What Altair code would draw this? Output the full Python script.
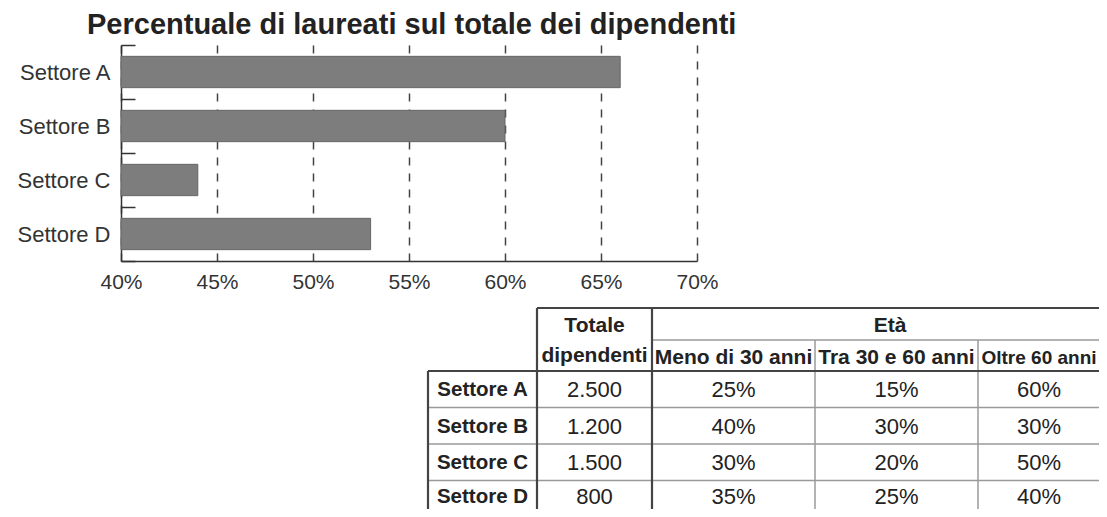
import altair as alt
import pandas as pd

# ---------------- data ----------------
title_text = "Percentuale di laureati sul totale dei dipendenti"
sectors = ["Settore A", "Settore B", "Settore C", "Settore D"]
laureati_pct = [66, 60, 44, 53]
x_ticks = [40, 45, 50, 55, 60, 65, 70]

head_totale = ["Totale", "dipendenti"]
head_eta = "Età"
age_groups = ["Meno di 30 anni", "Tra 30 e 60 anni", "Oltre 60 anni"]
totale_dipendenti = ["2.500", "1.200", "1.500", "800"]
meno_30 = ["25%", "40%", "30%", "35%"]
tra_30_60 = ["15%", "30%", "20%", "25%"]
oltre_60 = ["60%", "30%", "50%", "40%"]

# ---------------- layout ----------------
PLOT_W, PLOT_H = 576, 216
ORIGIN_X, ORIGIN_Y = 121, 45          # plot origin on the page
SVG_W, SVG_H = 1091, 501
PAD_L, PAD_T = ORIGIN_X - 8, ORIGIN_Y - 8
PAD_R = SVG_W - PAD_L - PLOT_W
PAD_B = SVG_H - PAD_T - PLOT_H

FONT = "Liberation Sans"
DARK = "#333333"

col_w = [109, 115, 163, 163, 122]
row_h = [32, 31, 36.5, 36.5, 36.5, 40]
row_text_dy = [1, 1, 1, -2]
header_sizes = [21, 21, 19]
tab_x0 = 428 - ORIGIN_X
tab_y0 = 308 - ORIGIN_Y
ce = [tab_x0]
for w in col_w:
    ce.append(ce[-1] + w)
re_ = [tab_y0]
for h in row_h:
    re_.append(re_[-1] + h)

TITLE_X = 87 - ORIGIN_X
TITLE_Y = 34 - ORIGIN_Y


def mid(a, b):
    return (a + b) / 2


# ---------------- bar chart ----------------
bars_df = pd.DataFrame({"sector": sectors, "pct": laureati_pct})

bars = alt.Chart(bars_df).mark_bar(
    height=alt.RelativeBandSize(0.58), color="#7d7d7d", stroke="#666666", strokeWidth=1
).encode(
    x=alt.X(
        "pct:Q",
        scale=alt.Scale(domain=[40, 70], nice=False, zero=False),
        axis=alt.Axis(
            values=x_ticks, labelExpr="datum.value + '%'", title=None,
            grid=True, gridDash=[8, 8], gridColor="#444444", gridWidth=1.5,
            ticks=False, domainColor=DARK, domainWidth=1.5,
            labelFont=FONT, labelFontSize=21, labelColor=DARK, labelPadding=10,
            labelFlush=False,
        ),
    ),
    x2=alt.datum(40),
    y=alt.Y(
        "sector:N", sort=sectors,
        scale=alt.Scale(paddingInner=0, paddingOuter=0),
        axis=alt.Axis(
            title=None, ticks=False, grid=True, tickBand="extent",
            gridDash=[14, 3000], gridColor=DARK, gridWidth=1.5,
            domainColor=DARK, domainWidth=1.5,
            labelFont=FONT, labelFontSize=22, labelColor=DARK, labelPadding=11,
        ),
    ),
)

# ---------------- table + title (pixel-layout layers) ----------------
tx = alt.Scale(domain=[0, PLOT_W], range=[0, PLOT_W], nice=False, zero=False)
ty = alt.Scale(domain=[0, PLOT_H], range=[0, PLOT_H], nice=False, zero=False)

dark_lines = pd.DataFrame([
    {"x": ce[1], "x2": ce[5] + 20, "y": re_[0], "y2": re_[0]},
    {"x": ce[0], "x2": ce[5] + 20, "y": re_[2], "y2": re_[2]},
    {"x": ce[0], "x2": ce[0], "y": re_[2], "y2": re_[6]},
    {"x": ce[1], "x2": ce[1], "y": re_[0], "y2": re_[6]},
    {"x": ce[2], "x2": ce[2], "y": re_[0], "y2": re_[6]},
])
light_lines = pd.DataFrame(
    [{"x": ce[2], "x2": ce[5] + 20, "y": re_[1], "y2": re_[1]},
     {"x": ce[3], "x2": ce[3], "y": re_[1], "y2": re_[6]},
     {"x": ce[4], "x2": ce[4], "y": re_[1], "y2": re_[6]}]
    + [{"x": ce[0], "x2": ce[5] + 20, "y": re_[k], "y2": re_[k]} for k in (3, 4, 5)]
)


def rule_layer(df, color, width):
    return alt.Chart(df).mark_rule(color=color, strokeWidth=width).encode(
        x=alt.X("x:Q", scale=tx, axis=None), x2="x2:Q",
        y=alt.Y("y:Q", scale=ty, axis=None), y2="y2:Q",
    )


header_rows = [
    {"x": mid(ce[1], ce[2]), "y": mid(re_[0], re_[1]), "t": head_totale[0], "s": 21},
    {"x": mid(ce[1], ce[2]), "y": mid(re_[1], re_[2]) - 2, "t": head_totale[1], "s": 21},
    {"x": mid(ce[2], ce[5]) + 14, "y": mid(re_[0], re_[1]), "t": head_eta, "s": 21},
]
for j, g in enumerate(age_groups):
    header_rows.append({"x": mid(ce[2 + j], ce[3 + j]), "y": mid(re_[1], re_[2]),
                        "t": g, "s": header_sizes[j]})
header_df = pd.DataFrame(header_rows)

rowhead_df = pd.DataFrame([
    {"x": mid(ce[0], ce[1]), "y": re_[2 + i] + row_h[2] / 2 + row_text_dy[i], "t": s}
    for i, s in enumerate(sectors)
])

cell_rows = []
for i in range(len(sectors)):
    for j, col in enumerate([totale_dipendenti, meno_30, tra_30_60, oltre_60]):
        cell_rows.append({"x": mid(ce[1 + j], ce[2 + j]),
                          "y": re_[2 + i] + row_h[2] / 2 + row_text_dy[i], "t": col[i]})
cell_df = pd.DataFrame(cell_rows)

title_df = pd.DataFrame([{"x": TITLE_X, "y": TITLE_Y, "t": title_text}])


def text_layer(df, size, weight, dy, align="center", baseline="middle", color="#222222"):
    enc = dict(
        x=alt.X("x:Q", scale=tx, axis=None),
        y=alt.Y("y:Q", scale=ty, axis=None),
        text="t:N",
    )
    if "s" in df.columns:
        enc["size"] = alt.Size("s:Q", scale=None, legend=None)
    return alt.Chart(df).mark_text(
        font=FONT, fontSize=size, fontWeight=weight, color=color,
        align=align, baseline=baseline, dy=dy,
    ).encode(**enc)


header_layer = alt.Chart(header_df).mark_text(
    font=FONT, fontWeight="bold", color="#222222", align="center", baseline="middle", dy=2,
).encode(
    x=alt.X("x:Q", scale=tx, axis=None),
    y=alt.Y("y:Q", scale=ty, axis=None),
    text="t:N",
    size=alt.Size("s:Q", scale=None, legend=None),
)

table = alt.layer(
    rule_layer(light_lines, "#9a9a9a", 1.5),
    rule_layer(dark_lines, "#444444", 2.2),
    header_layer,
    text_layer(rowhead_df, 20.5, "bold", 0),
    text_layer(cell_df, 22, "normal", 0),
    text_layer(title_df, 29, "bold", 0, align="left", baseline="alphabetic"),
)

chart = alt.layer(bars, table).resolve_scale(
    x="independent", y="independent"
).properties(
    width=PLOT_W,
    height=PLOT_H,
    autosize=alt.AutoSizeParams(type="none"),
    padding={"left": PAD_L, "top": PAD_T, "right": PAD_R, "bottom": PAD_B},
).configure_view(stroke=None)

chart.save("out.html", embed_options={"renderer": "svg", "actions": False})
